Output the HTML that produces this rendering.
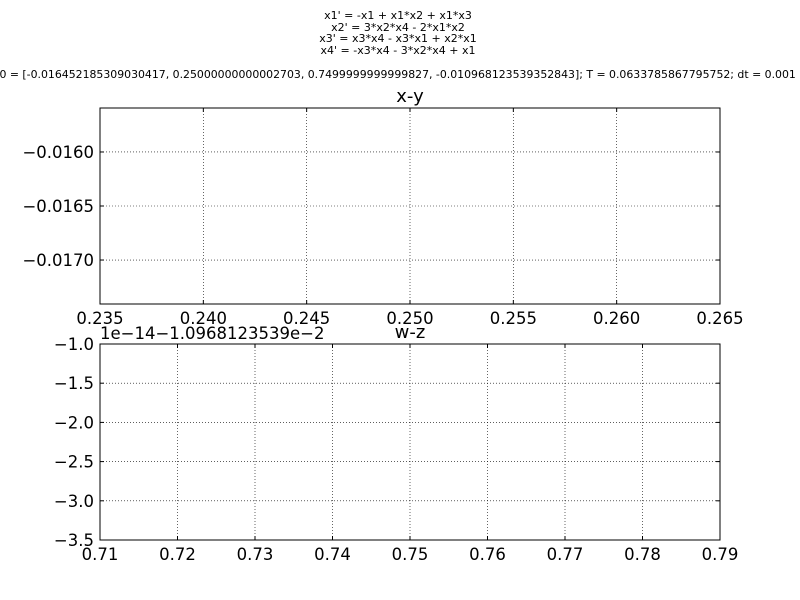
<!DOCTYPE html>
<html><head><meta charset="utf-8"><style>
body{margin:0;background:#fff}
svg{display:block;font-family:"DejaVu Sans","Liberation Sans",sans-serif}
</style></head><body>
<svg id="c" width="800" height="600">
<rect width="800" height="600" fill="#fff"/>
<g font-size="11" text-anchor="middle">
<text x="398" y="19">x1' = -x1 + x1*x2 + x1*x3</text>
<text x="398" y="31">x2' = 3*x2*x4 - 2*x1*x2</text>
<text x="398" y="42">x3' = x3*x4 - x3*x1 + x2*x1</text>
<text x="398" y="54">x4' = -x3*x4 - 3*x2*x4 + x1</text>
</g>
<text x="-7" y="78" font-size="10.9">x0 = [-0.016452185309030417, 0.25000000000002703, 0.7499999999999827, -0.010968123539352843]; T = 0.0633785867795752; dt = 0.001</text>
</svg>
<script>
const topXTicks=[0.235,0.240,0.245,0.250,0.255,0.260,0.265];
const topYTicks=[-0.0160,-0.0165,-0.0170];
const topXDomain=[0.235,0.265];
const topYDomain=[-0.017407,-0.015593];
const botXTicks=[0.71,0.72,0.73,0.74,0.75,0.76,0.77,0.78,0.79];
const botYTicks=[-1.0,-1.5,-2.0,-2.5,-3.0,-3.5];
const botXDomain=[0.71,0.79];
const botYDomain=[-3.5,-1.0];
const NS="http://www.w3.org/2000/svg";
const svg=document.getElementById('c');
function mk(t,a,txt){const e=document.createElementNS(NS,t);for(const k in a)e.setAttribute(k,a[k]);if(txt!==undefined)e.textContent=txt;svg.appendChild(e);return e;}
function fmt(v,d){return (v<0?'\u2212':'')+Math.abs(v).toFixed(d);}
function panel(name,title,L,T,W,H,xd,yd,xt,yt,xdec,ydec){
  const sx=v=>L+(v-xd[0])/(xd[1]-xd[0])*W;
  const sy=v=>T+H-(v-yd[0])/(yd[1]-yd[0])*H;
  xt.forEach(v=>{const x=sx(v);
    if(x>L+1&&x<L+W-1){const g=mk('line',{x1:x,x2:x,y1:T,y2:T+H,stroke:'#000','stroke-width':0.6,'stroke-dasharray':'1,2'});
    
    }
    mk('line',{x1:x,x2:x,y1:T+H,y2:T+H-4,stroke:'#000'});
    mk('line',{x1:x,x2:x,y1:T,y2:T+4,stroke:'#000'});
    const t=mk('text',{x:x,y:T+H+20,'font-size':16.5,'text-anchor':'middle'},fmt(v,xdec));
    
    
  });
  yt.forEach(v=>{const y=sy(v);
    if(y>T+1&&y<T+H-1){const g=mk('line',{x1:L,x2:L+W,y1:y,y2:y,stroke:'#000','stroke-width':0.6,'stroke-dasharray':'1,2'});
    
    }
    mk('line',{x1:L,x2:L+4,y1:y,y2:y,stroke:'#000'});
    mk('line',{x1:L+W,x2:L+W-4,y1:y,y2:y,stroke:'#000'});
    const t=mk('text',{x:L-6,y:y+6,'font-size':16.5,'text-anchor':'end'},fmt(v,ydec));
    
    
  });
  const r=mk('rect',{x:L,y:T,width:W,height:H,fill:'none',stroke:'#000'});
  
  
  const tt=mk('text',{x:L+W/2,y:T-6,'font-size':18,'text-anchor':'middle'},title);
  
  
}
panel('xy-plot','x-y',100,108,620,196,topXDomain,topYDomain,topXTicks,topYTicks,3,4);
panel('wz-plot','w-z',100,344,620,196,botXDomain,botYDomain,botXTicks,botYTicks,2,1);
const off=mk('text',{x:100,y:339,'font-size':16.5},'1e\u221214\u22121.0968123539e\u22122');


</script>
</body></html>
